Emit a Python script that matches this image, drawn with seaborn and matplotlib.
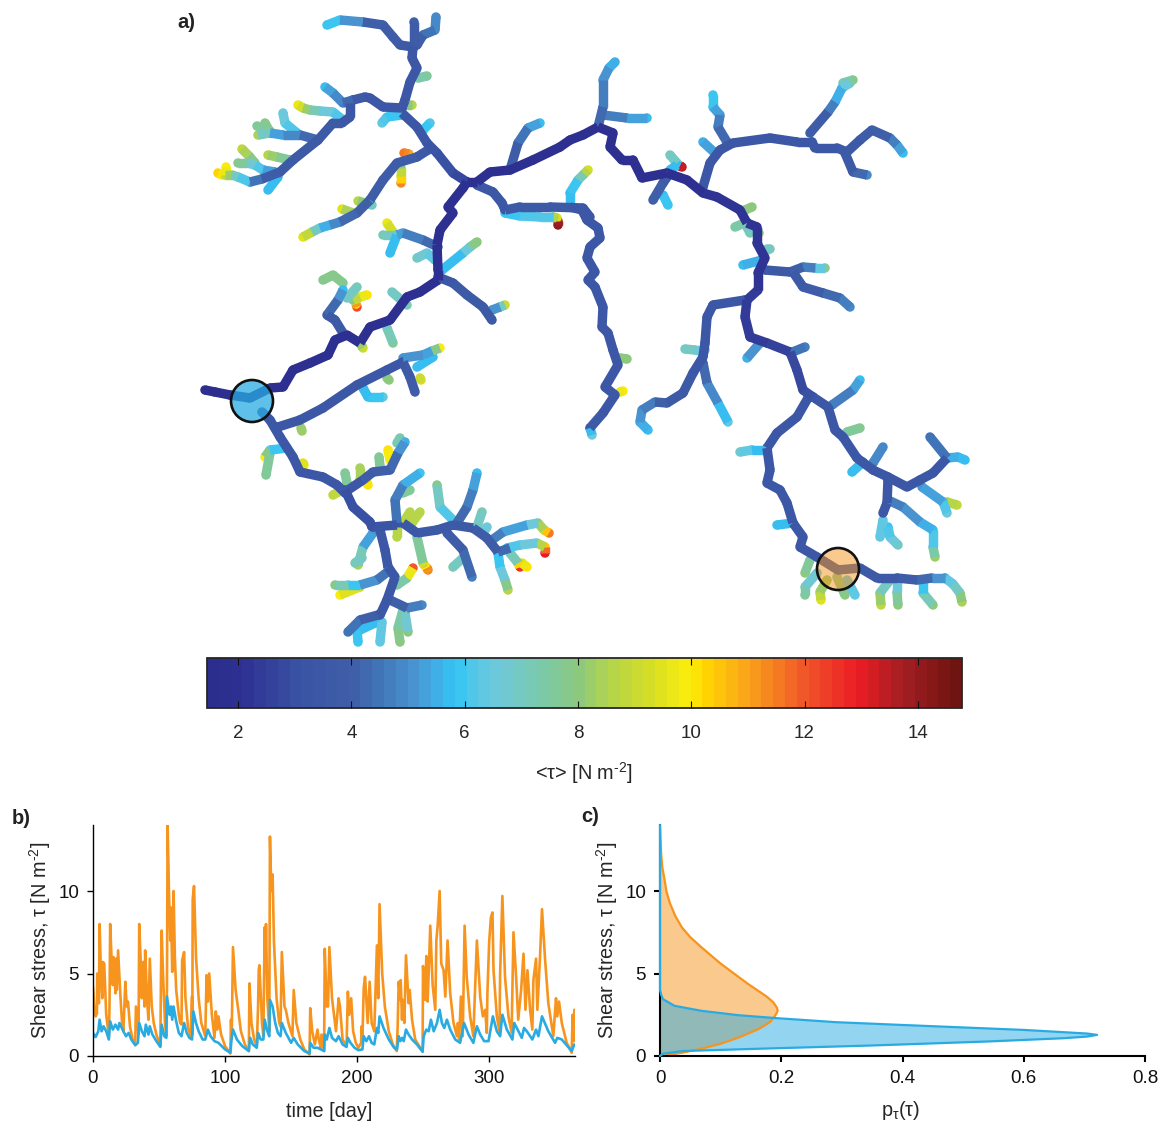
import numpy as np
import pandas as pd
import matplotlib
matplotlib.use('Agg')
import matplotlib.pyplot as plt
import seaborn as sns
from matplotlib.cm import ScalarMappable
from matplotlib.collections import LineCollection
from matplotlib.colors import LinearSegmentedColormap, Normalize, to_rgba
from matplotlib.patches import Circle

# --- panel a: channel reaches, (x, y, mean shear stress) along each reach, x/y in map units
outlet_stem = [(205,390,1.7),(215,392,1.7),(230,395,1.8),(250,398,1.8),(270,388,1.9),(283,387,1.9),(293,370,2),(310,363,2),(328,355,2),
               (335,340,2),(347,335,2),(360,343,2),(370,327,2),(390,320,2),(407,297,2),(420,292,2),(438,280,2),(438,270,2),(437,245,2),
               (440,230,2),(453,213,2),(448,207,2),(463,188,2),(467,182,2)]
east_stem = [(467,182,2),(477,182,2),(490,172,2),(510,170,2),(533,160,2),(560,147,2),(570,140,2),(583,135,2),(598,127,2),(613,133,2),
             (610,147,2),(622,160,2),(633,160,2),(642,178,2),(667,173,2),(687,180,2),(703,193,2.1),(717,197,2.1),(740,210,2.1),(747,223,2.1),
             (757,227,2.1),(757,243,2.1),(765,258,2.2),(758,273,2.2),(758,290,2.3),(747,300,2.3),(745,317,2.4),(750,337,2.4),(767,343,2.4),
             (790,352,2.6),(797,370,2.8),(803,390,2.9),(813,397,3)]

north_branches = [
    [(327,25,6),(340,20,5.7),(363,22,4.3),(383,25,4),(393,37,3.8),(400,45,3.7),(413,47,3.5)],
    [(414,22,4),(414,47,3.6)],
    [(436,17,4.8),(435,30,4.8),(423,35,4.3),(417,45,3.8)],
    [(413,47,3.4),(412,58,3.4),(417,68,3.4),(410,82,3.4),(405,100,3.4),(402,108,3.3)],
    [(418,78,7.2),(427,76,7.6)],
    [(407,105,7.5),(412,105,8.7)],
    [(402,108,3.5),(383,107,3.5),(370,98,3.5),(365,97,3.5),(353,100,3.6)],
    [(353,100,3.8),(343,103,4.6),(333,93,5),(325,87,5.7)],
    [(350,103,3.5),(350,117,3.5),(342,123,3.5),(333,123,3.6),(318,140,3.6),(293,160,3.6),(280,172,3.7),(262,179,4),(250,182,5)],
    [(250,182,5.6),(238,177,6.5),(232,175,7.5),(225,175,8.8)],
    [(226,175,9.5),(226,167,9.9)],
    [(222,175,9.9),(218,173,10.4)],
    [(275,172,5),(263,170,5.7),(255,165,6.5),(247,163,7.2),(238,163,7.8)],
    [(255,163,7.6),(249,156,8),(242,149,8.8)],
    [(290,160,7),(277,157,8),(268,155,8.6)],
    [(278,177,5.6),(268,190,5.7)],
    [(318,140,4),(300,135,4.5),(283,135,5.2),(270,133,5.6),(258,135,8.5)],
    [(297,133,5.8),(285,123,6.5),(283,113,6.5)],
    [(270,132,7.6),(265,123,7.8)],
    [(270,131,7.5),(257,126,7.6)],
    [(343,120,6),(333,112,6.3),(320,111,6.8),(310,110,7.5),(303,108,8.8),(298,105,9.6)],
    [(402,115,5.7),(387,117,6),(382,123,6.3)],
    [(402,113,3.4),(417,127,3.4),(427,143,3.3),(437,153,3.2),(453,173,3),(467,182,2.6)],
    [(423,130,5.9),(430,123,6.1)],
    [(428,150,3.5),(417,157,3.7),(397,163,3.8),(383,180,3.8),(370,200,3.9),(357,213,4),(340,222,4.5),(330,225,5.2),(320,228,6),(312,232,8),(303,237,9.5)],
    [(404,153,11.6),(409,154,11)],
    [(401,168,8),(401,176,9.5),(401,183,11.3)],
    [(365,203,7.5),(358,201,8.7)],
    [(366,203,6.8),(372,205,7)],
    [(353,213,7.5),(342,209,9.5)],
    [(510,170,3.5),(518,143,4),(528,128,5),(540,123,5.7)],
]
central_branches = [
    [(477,185,3.5),(493,192,3.5),(502,203,3.5),(505,210,3.5),(520,207,3.6),(550,207,3.6),(583,208,3.5),(590,217,3.5)],
    [(570,207,3.5),(582,210,3.5),(587,220,3.5),(598,228,3.5),(600,238,3.5),(590,247,3.5),(587,258,3.5),(595,272,3.5),(588,280,3.5),
     (595,287,3.5),(603,307,3.5),(602,327,3.5),(608,333,3.5),(613,350,3.5),(618,365,3.5),(605,387,3.5),(615,395,3.5),(603,413,3.5),(590,428,3.6)],
    [(590,428,5),(592,435,6.5)],
    [(620,358,8),(627,359,8.1)],
    [(620,392,9.6),(623,391,9.8)],
    [(505,213,5.9),(520,216,6.1),(540,217,6.1),(553,217,6.2)],
    [(553,217,8),(557,218,9.2)],
    [(558,221,13.7),(558,225,14)],
    [(570,205,5.6),(570,193,5.7),(578,180,6.3),(584,174,8),(588,170,9.2)],
    [(438,247,4),(423,240,4.5),(403,233,5),(397,235,5.7),(390,253,5.7)],
    [(397,235,6.8),(383,235,7.1)],
    [(393,232,8.8),(387,223,9.6)],
    [(435,260,6),(427,253,6.5),(417,258,7)],
    [(442,270,5.7),(463,253,5.7),(470,247,7.6),(477,242,8)],
    [(438,277,3.5),(453,283,3.5),(467,295,3.6),(483,307,3.7),(492,320,3.7)],
    [(492,310,5),(500,307,5),(505,305,9)],
    [(392,292,6.9),(407,305,7.1)],
    [(343,333,3.5),(335,320,3.6),(327,315,3.8),(338,300,4.6),(343,290,5.7)],
    [(343,283,7.6),(333,275,7.8),(323,280,7.8)],
    [(347,298,6.8),(357,287,7.2)],
    [(353,300,8),(360,297,9.5),(367,295,10)],
    [(356,304,10),(357,307,12.2)],
    [(387,328,6.8),(393,343,7.5)],
    [(360,343,7.5),(363,348,9)],
]
east_branches = [
    [(598,127,4),(603,107,4.5),(603,80,5),(609,68,5.3),(615,62,5.6)],
    [(603,115,4.5),(627,118,5),(647,118,5.7)],
    [(670,173,3.8),(663,183,3.9),(653,200,4)],
    [(663,195,5.8),(668,205,6)],
    [(680,166,13.3),(682,167,13.5)],
    [(670,170,5.7),(677,165,5.7)],
    [(677,163,6.8),(670,155,7)],
    [(703,187,3.5),(710,163,3.5),(720,150,3.5),(733,143,3.5),(770,138,3.5),(797,142,3.5),(812,142,3.5)],
    [(715,153,5.2),(703,142,5.6)],
    [(727,142,4),(718,127,4.5),(720,115,5),(713,107,5.7),(713,95,6)],
    [(812,142,3.5),(815,148,3.5),(837,148,3.5),(847,152,3.6),(860,140,3.7),(872,130,3.8),(890,138,4.5),(897,145,5),(903,153,5.7)],
    [(845,153,3.5),(853,172,3.8),(867,175,4.8)],
    [(810,133,3.8),(828,112,4),(835,102,5.5),(842,88,5.7),(850,83,7.4)],
    [(843,83,7),(853,80,7.8)],
    [(745,210,7.8),(752,207,8.1)],
    [(747,222,7.2),(735,227,7.4)],
    [(747,227,6.9),(750,233,7.1)],
    [(757,233,8),(759,233,8.2)],
    [(767,249,7),(770,249,7.1)],
    [(762,260,5.5),(743,265,5.7)],
    [(765,270,3.5),(790,272,3.8),(803,267,4.5),(815,268,5),(825,268,7.8)],
    [(793,272,3.5),(803,287,3.8),(823,293,4),(840,298,4.5),(850,307,4.8)],
    [(745,300,3.5),(713,305,3.5),(707,317,3.5),(705,343,3.5),(703,357,3.5),(693,373,3.5),(683,393,3.6),(667,403,3.8),(655,402,4.4),(642,410,4.8),(640,422,5.2),(648,430,5.8)],
    [(685,349,7),(695,350,6.8),(705,350,6.4)],
    [(703,363,4),(707,383,4.5),(718,403,5.2),(728,422,6.3)],
    [(760,343,4.8),(747,358,5.5)],
    [(790,353,4.5),(805,347,4.6)],
]
south_east_branches = [
    [(813,397,3.3),(828,407,3.5),(835,430,3.5),(843,437,3.5),(857,458,3.5),(873,470,3.5),(888,477,3.5),(907,487,3.5),(920,480,3.5),(933,473,3.5),(947,458,3.5)],
    [(947,458,4.5),(930,437,4.5)],
    [(947,458,5.5),(958,457,5.6),(965,460,5.7)],
    [(888,480,3.5),(887,503,3.5),(883,513,3.5)],
    [(888,500,4.5),(903,507,4.8),(920,522,5.3),(933,530,5.8),(933,547,6.5),(935,557,8.3)],
    [(883,520,6.3),(880,537,6.4)],
    [(888,527,5.9),(890,537,6.3),(898,545,6.9)],
    [(922,487,5),(943,502,5.7),(947,513,6.5)],
    [(947,502,8.3),(957,505,8.8)],
    [(873,463,4.7),(883,447,4.9)],
    [(863,462,5.7),(852,472,5.8)],
    [(847,432,7.3),(860,428,7.7)],
    [(832,405,4.5),(853,390,5),(860,380,5.7)],
    [(808,398,3.5),(797,417,3.5),(777,433,3.5),(767,448,3.5),(770,470,3.5),(767,483,3.5),(780,490,3.5),(787,503,3.5),(793,523,3.5),(803,537,3.5),(800,547,3.5),(817,557,3.5),(838,570,3.5),(860,568,3.6),(877,578,3.6),(897,578,3.7),(917,580,4),(932,578,4.6),(945,578,5.6)],
    [(767,450,5.7),(752,450,5.8),(740,452,6.8)],
    [(793,523,5.7),(777,525,5.7)],
    [(945,578,6),(953,584,6.5),(960,593,7.5),(962,602,8.5)],
    [(923,580,5.7),(923,593,6.3),(933,605,8)],
    [(897,580,6.3),(897,592,7),(898,605,8)],
    [(890,580,6.5),(880,593,7.5),(881,605,8.8)],
    [(810,560,7.3),(805,573,8)],
    [(817,573,6.3),(805,587,7.3),(805,595,7.5)],
    [(827,580,8),(820,592,8.3),(821,600,9.5)],
    [(837,577,7.5),(845,595,8)],
    [(847,580,6.3),(855,595,6.4)],
]
south_west_branches = [
    [(262,412,3.5),(270,420,3.5),(280,437,3.5),(293,457,3.5),(300,472,3.5),(323,477,3.5),(337,485,3.5),(345,493,3.5)],
    [(278,427,3.5),(300,420,3.5),(323,408,3.5),(357,385,3.5),(387,370,3.5),(403,362,3.5)],
    [(403,362,3.5),(410,377,3.7),(415,392,4)],
    [(403,358,5),(423,355,5.2),(432,351,5.6),(440,348,9.8)],
    [(417,367,5.7),(433,357,5.7)],
    [(420,378,9),(421,380,9.2)],
    [(363,388,5.7),(368,397,5.7),(383,397,6.3)],
    [(387,378,8),(389,380,8)],
    [(301,428,8.2),(302,431,8.3)],
    [(287,448,5.7),(270,450,6.3),(265,457,9.8)],
    [(270,453,7.5),(266,475,7.6)],
    [(303,463,9.5),(304,465,9.6)],
    [(345,490,3),(353,507,3),(370,522,3.1),(372,527,3.1),(397,525,3.2)],
    [(345,492,3.5),(363,480,3.5),(373,472,4),(390,470,4),(398,453,4.5),(405,442,5.6)],
    [(397,443,7.2),(400,438,7.3)],
    [(390,460,9.9),(388,450,10)],
    [(380,467,7.5),(379,457,7.6)],
    [(360,480,8.3),(360,468,8.4)],
    [(347,483,7.5),(345,473,7.6)],
    [(342,490,8.6),(333,495,8.9)],
    [(367,483,10),(368,485,10)],
    [(397,523,4.5),(395,500,4.5),(403,485,5),(420,473,6)],
    [(403,493,7.5),(410,490,7.6)],
    [(403,523,8.5),(410,512,8.7)],
    [(412,523,8.5),(420,512,8.6)],
    [(397,527,8.5),(397,537,8.6)],
    [(403,523,3.5),(417,533,3.5),(437,530,3.6),(453,525,3.7),(473,528,3.7),(487,538,3.8),(498,552,4),(510,548,4.5)],
    [(457,523,4.2),(467,507,4.5),(473,490,5),(477,473,5.7)],
    [(453,520,5.8),(440,507,6.3),(437,485,7.8)],
    [(477,527,7),(482,512,7.1)],
    [(483,533,6.4),(487,527,6.5)],
    [(447,533,3.8),(463,550,4),(472,577,4.6)],
    [(463,558,6.9),(453,567,7.1)],
    [(417,537,6.5),(423,563,8.5),(425,566,10)],
    [(427,568,11.2),(428,570,11.4)],
    [(498,553,5.7),(500,567,6),(505,580,7),(508,590,8.6)],
    [(492,540,4.5),(503,532,5),(527,525,5.5),(538,523,7.5),(544,530,9.5),(549,533,11.6)],
    [(507,548,6),(520,545,6.3),(537,543,6.8),(545,547,10.6),(545,553,13)],
    [(510,553,6.5),(518,563,8),(520,567,12.6)],
    [(522,563,9.5),(527,567,10)],
    [(380,530,3.5),(385,550,3.5),(388,567,3.5),(395,577,3.5),(387,600,3.5),(380,615,3.5)],
    [(373,533,5),(363,547,5.7),(358,565,8.5)],
    [(362,558,6.9),(355,563,7.1)],
    [(390,570,4),(377,580,4.8),(360,585,5.2),(348,585,6.5),(335,585,7.8)],
    [(360,587,9),(340,595,9.9)],
    [(397,585,7.3),(407,578,7.5),(413,568,12)],
    [(390,600,3.8),(407,608,4.5),(422,605,4.8)],
    [(403,610,7.2),(398,628,7.5),(400,642,8)],
    [(405,613,5.7),(408,632,8)],
    [(378,615,4),(360,620,4.3),(348,632,4.5)],
    [(357,630,5.7),(358,642,6)],
    [(375,623,5.7),(360,630,5.7)],
    [(382,622,6.3),(380,642,6.3)],
]

gauge_x = [252, 838]
gauge_y = [401, 569]
gauge_colors = ['#29abe2', '#f7941d']
gauge_alpha = [0.75, 0.5]

cbar_levels = [1.45,2,3,4,4.5,5,5.5,5.8,6.2,6.6,7.2,8,8.6,9.3,10,10.3,11,12,13,13.8,14.78]
cbar_colors = ['#2b2e8c','#2e3192','#3a53a4','#3f5fa8','#4278ba','#4a90cf','#3fb0e8','#32c5f4','#5ac8e6','#70c8d8','#78c9b4',
               '#8cc97e','#b5d44a','#d6de26','#fcee0a','#ffd400','#faa61a','#f15a29','#ed1c24','#a41e22','#6f1410']

# --- panel b: shear stress at the two gauges, (day, tau)
orange_series = [(0,4.2),(1,3),(2,2.4),(3,2.6),(3.2,5),(4.5,3.2),(5,8),(6,5),(7,3.5),(7.5,5.7),(8.5,5.6),(10,2.5),(12,1.2),(12.5,3),(13,8),(14,6),
    (15,4.3),(15.5,6),(17,3.8),(17.5,5.9),(18,4),(19,6.4),(20.5,4),(22,2),(23,1.5),(24.5,4.5),(25.5,3),(26.5,3.3),(28,1.8),(30,1),(32,0.8),(32.5,3),
    (34.5,1.3),(35,8),(36,6),(37,3.5),(38,5.7),(39,3),(39.5,6.4),(41,3.3),(42,2.2),(43,5.9),(44.5,3),(46,2),(48,1.3),(51,0.6),(51.5,5),(52,7.6),
    (53,5),(54.5,2),(55.5,1.2),(56,4),(56.5,14),(57.5,10),(58.5,7),(59,9),(60,5.1),(61,10),(62,6),(63,4),(65,2.5),(66,2),(67,1.9),(67.5,5.8),
    (69,6.3),(70,3.5),(72,1.7),(74,1.2),(75,3.6),(75.2,1.3),(75.5,9.5),(76.5,10.3),(78,6),(80,3.5),(82,2),(85,1.2),(86,4.9),(87,3.3),(88,5),(90,2.5),
    (92,1.1),(93,2.7),(94,1.6),(95,2.4),(97,1.3),(100,0.6),(104,0.15),(104.5,2.2),(105,1),(106,6.6),(108,4),(110,2.8),(112,1.5),(115,0.7),(118,0.3),(118.5,4.4),
    (120,2),(122,1),(124,0.6),(125,3),(125.5,5.2),(126,5.5),(128,2),(129,1.2),(130,7.8),(130.5,5),(131,8),(132,3.5),(133.5,1.5),(134,13.3),(135,10),(136,11),
    (137,7),(139,3.5),(141,2),(142,1.8),(143,6.3),(145,3),(146,2.8),(148,2),(151,1.2),(152,4),(154,2),(157,1),(160,0.4),(164,0.1),(164.5,2.9),(166,1.5),
    (168,0.7),(170,1.6),(171,1),(172.5,0.5),(173,1.3),(175,0.3),(175.5,6.5),(177,3),(178,3),(179,6.6),(181,3.5),(184,1.5),(186,3.5),(187,3),(189,1),(192,0.6),
    (193,3.9),(194,2.5),(195.5,3.5),(197,1.5),(199,0.8),(201,0.5),(203,0.8),(203.5,1.8),(204,1),(205,4.1),(206,4.8),(208,2),(209.5,4.5),(211,2),(213,1.5),(215,6.7),
    (216,3.5),(217,9.2),(219,5),(221,3),(224,1.5),(227,0.7),(230,0.3),(230.7,1.8),(231.5,4.5),(232.7,3.4),(233,4.6),(234,2.2),(234.5,3.4),(235.8,2),(237,6.1),(239,3.2),
    (239.8,4),(241.6,2.2),(244,1),(249.6,0.26),(249.9,5.45),(251.6,3.4),(252.4,6.06),(253.4,3.3),(254.2,5),(255.4,7.9),(257.2,4.3),(259.2,2.8),(260,7),(261,7.9),(262.5,10),(263.7,5.6),
    (265.5,5.2),(266.8,3.6),(268.5,7),(270.5,3.8),(273,2),(275.6,1.2),(276.3,2),(277.3,1),(278.6,3.6),(280,1.2),(281.4,7.9),(283,4.8),(285.6,2.4),(288,1.2),(289.4,4.2),(290.7,7),
    (293.2,3.6),(295.2,2.4),(297,2.8),(298.2,1.4),(298.7,3.9),(300,6.9),(301.3,8.4),(302.5,8.7),(303.3,5.2),(305.8,2.4),(307.8,1.5),(308.3,5),(310,9.7),(312,4.8),(314.6,2.4),(317,1.4),
    (318.4,7.5),(320.4,4.8),(322,2.2),(324.2,4),(326,6.2),(327.5,2.8),(329,5.2),(331,2.8),(332.7,1.6),(333.5,4.6),(335.5,5.9),(336.5,2.8),(338.5,6),(340,8.9),(342.3,5.9),(344.8,3.2),
    (348.6,1.2),(350.6,3.5),(351.6,2.4),(352.9,3.3),(355,2),(358.7,0.8),(362.5,0.2),(363.2,2.5),(364,0.9),(364.5,2.8)]
blue_series = [(0,1.4),(2,1.15),(4,1.5),(5,2.2),(6.5,1.5),(8,1.8),(10,1.5),(12,1),(13,2.1),(15,1.6),(17,1.9),(19,1.6),(20,2),(23,1.5),(25,1.2),(27,1.4),
    (29,1),(32,0.65),(34,0.8),(35,2),(37,1.5),(39,1.2),(40,1.9),(42,1.3),(43,1.8),(45,1.3),(48,0.9),(51,0.55),(52,1.9),(54,1.2),(55.5,1.1),(56,3.6),
    (58,2.5),(59,3),(60,2.2),(61,3),(63,2.1),(65,1.4),(67,1.2),(69,2),(71,1.4),(73,1.1),(75,1),(76,2.7),(78,2),(80,1.5),(83,1),(85,1),
    (87,1.6),(89,1.2),(92,0.9),(95,0.8),(100,0.4),(104,0.2),(105,1.1),(106,1.6),(109,1),(113,0.6),(118,0.3),(119,1.1),(121,0.7),(124,0.5),(125,1.4),(127,1),
    (129,1),(130,2.2),(132,1.5),(133.5,1.2),(134,3.4),(136,3),(138,2),(140,1.4),(142,1.2),(143,2),(146,1.4),(150,0.8),(152,1.1),(155,0.7),(160,0.3),(164,0.15),
    (164.5,0.8),(167,0.5),(170,0.5),(175,0.3),(175.5,1.3),(177,1),(179,1.7),(181,1.1),(184,0.9),(186,1.2),(189,0.7),(192,0.55),(193,1.1),(195,0.8),(198,0.5),(201,0.35),
    (204,0.4),(205,1.2),(207,0.9),(209,1.2),(211,0.8),(213,0.7),(215,1.7),(216,1.4),(217,2.4),(220,1.7),(224,1),(228,0.5),(230.2,0.4),(231.5,1.2),(232.7,0.9),(234,1.1),
    (235.3,0.9),(237,1.6),(239,1.3),(241.6,1),(245.3,0.7),(249.6,0.26),(250.4,1.2),(252.4,1.6),(254.2,1.5),(255.9,2.2),(258,1.5),(260.5,2),(262.5,2.8),(264.2,2),(266,1.7),(268,2.2),
    (270.5,1.6),(274.3,1),(278,0.8),(281,2),(284.4,1.3),(288,0.8),(290.7,1.8),(293.2,1.3),(296.2,0.9),(299.5,0.9),(302.8,2.4),(305.8,1.5),(308.3,1.2),(310,2.5),(313.4,1.6),(317.6,1),
    (319,2),(324.7,1.1),(326.4,1.7),(328.5,1.5),(332.7,1),(335.5,1.6),(337.3,1.2),(340,2.4),(344.8,1.5),(349.9,0.8),(351.6,1.1),(355,1),(362.5,0.3),(364.5,0.7)]

# --- panel c: pdf of shear stress, (p, tau)
orange_pdf = [(0,0),(0.011,0.04),(0.037,0.2),(0.068,0.44),(0.1,0.74),(0.131,1.14),(0.163,1.64),(0.181,2.05),(0.188,2.34),(0.193,2.64),(0.194,2.75),(0.193,2.92),(0.187,3.25),(0.176,3.6),
              (0.144,4.4),(0.1,5.6),(0.068,6.6),(0.05,7.2),(0.036,7.8),(0.025,8.5),(0.016,9.3),(0.0105,10),(0.007,10.8),(0.004,11.4),(0.002,12.2),(0,14)]
blue_pdf = [(0,0),(0.005,0.14),(0.037,0.3),(0.163,0.44),(0.352,0.64),(0.541,0.88),(0.667,1.08),(0.705,1.18),(0.721,1.28),(0.705,1.36),(0.667,1.44),(0.6,1.58),(0.48,1.76),
            (0.4,1.88),(0.29,2.05),(0.19,2.3),(0.13,2.47),(0.068,2.74),(0.024,3.04),(0.005,3.44),(0.002,3.7),(0,4),(0,14)]

ORANGE = '#f7941d'
BLUE = '#29abe2'

sns.set_style('ticks')
plt.rcParams['font.family'] = ['Liberation Sans', 'DejaVu Sans']
plt.rcParams['mathtext.fontset'] = 'custom'
plt.rcParams['mathtext.rm'] = 'Liberation Sans'
plt.rcParams['mathtext.it'] = 'Liberation Sans'
plt.rcParams['mathtext.default'] = 'regular'

W, H = 1165, 1124
fig = plt.figure(figsize=(W/100, H/100), dpi=100)


def box(left, top, right, bottom):
    return [left/W, 1 - bottom/H, (right-left)/W, (bottom-top)/H]


norm = Normalize(1.45, 14.78)
stops = [(v-1.45)/(14.78-1.45) for v in cbar_levels]
cmap = LinearSegmentedColormap.from_list('tau', list(zip(stops, cbar_colors)), N=64)

# map
ax_map = fig.add_axes([0, 0, 1, 1])

segs = []
vals = []
dots = []
for group in [[outlet_stem, east_stem], north_branches, central_branches, east_branches, south_east_branches, south_west_branches]:
    for br in group:
        arr = np.array(br, dtype=float)
        dots.append(arr)
        for i in range(len(arr)-1):
            segs.append(arr[i:i+2, :2])
            vals.append((arr[i, 2] + arr[i+1, 2]) / 2)

LW = 6.8
# round ends and bends come from dots at the reach vertices, under the segments
dots = pd.DataFrame(np.vstack(dots), columns=['x', 'y', 'tau']).sort_values('tau', ascending=False)
sns.scatterplot(data=dots, x='x', y='y', hue='tau', hue_norm=norm, palette=cmap, s=LW**2, linewidth=0, legend=False, ax=ax_map)
ax_map.set_xlim(0, W)
ax_map.set_ylim(H, 0)
ax_map.axis('off')

# dark trunk on top of the pale tips
order = np.argsort(vals)[::-1]
lc = LineCollection([segs[i] for i in order], array=np.array(vals)[order], cmap=cmap, norm=norm,
                    linewidths=LW, capstyle='butt', joinstyle='round')
ax_map.add_collection(lc)

for gx, gy, gc, ga in zip(gauge_x, gauge_y, gauge_colors, gauge_alpha):
    ax_map.add_patch(Circle((gx, gy), 21, facecolor=to_rgba(gc, ga), edgecolor='#111111', linewidth=1.9, zorder=5))

# colorbar
cax = fig.add_axes(box(207, 658, 962, 708))
sm = ScalarMappable(norm=norm, cmap=cmap)
cb = fig.colorbar(sm, cax=cax, orientation='horizontal', ticks=[2, 4, 6, 8, 10, 12, 14])
cb.minorticks_off()
cax.set_axisbelow(False)
cb.ax.tick_params(axis='x', direction='in', top=True, bottom=True, length=5, width=0.8, pad=12, labelsize=13.5, color='#111111')
cb.outline.set_linewidth(1.3)
fig.text(584/W, 1-773/H, r'<τ> [N m$^{\text{-}2}$]', ha='center', va='center', fontsize=14.3)

# time series
ax_b = fig.add_axes(box(93, 825, 575, 1056))
df_o = pd.DataFrame(orange_series, columns=['day', 'tau'])
df_b = pd.DataFrame(blue_series, columns=['day', 'tau'])
sns.lineplot(data=df_o, x='day', y='tau', color=ORANGE, lw=1.9, estimator=None, sort=False, ax=ax_b)
sns.lineplot(data=df_b, x='day', y='tau', color=BLUE, lw=1.9, estimator=None, sort=False, ax=ax_b)
ax_b.set_xlim(0, 365)
ax_b.set_ylim(0, 14)
ax_b.set_xticks([0, 100, 200, 300])
ax_b.set_yticks([0, 5, 10])
ax_b.set_xlabel('time [day]', fontsize=14.3, labelpad=11, x=0.49)
ax_b.set_ylabel(r'Shear stress, τ [N m$^{\text{-}2}$]', fontsize=14.3, labelpad=4)

# pdf
ax_c = fig.add_axes(box(660, 825, 1145, 1056))
pdf_o = pd.DataFrame(orange_pdf, columns=['p', 'tau'])
pdf_b = pd.DataFrame(blue_pdf, columns=['p', 'tau'])
ax_c.fill_betweenx(pdf_o['tau'], 0, pdf_o['p'], color=ORANGE, alpha=0.5, lw=0)
sns.lineplot(data=pdf_o, x='p', y='tau', orient='y', color=ORANGE, lw=1.6, estimator=None, sort=False, ax=ax_c)
ax_c.fill_betweenx(pdf_b['tau'], 0, pdf_b['p'], color=BLUE, alpha=0.5, lw=0)
sns.lineplot(data=pdf_b, x='p', y='tau', orient='y', color=BLUE, lw=1.6, estimator=None, sort=False, ax=ax_c, clip_on=False, zorder=5)
ax_c.set_xlim(0, 0.8)
ax_c.set_ylim(0, 14)
ax_c.set_xticks([0, 0.2, 0.4, 0.6, 0.8])
ax_c.set_xticklabels(['0', '0.2', '0.4', '0.6', '0.8'])
ax_c.set_yticks([0, 5, 10])
ax_c.set_xlabel(r'p$_{τ}$(τ)', fontsize=14.3, labelpad=9, x=0.497)
ax_c.set_ylabel(r'Shear stress, τ [N m$^{\text{-}2}$]', fontsize=14.3, labelpad=4)

for ax, spine_w in [(ax_b, 1.0), (ax_c, 1.5)]:
    sns.despine(ax=ax)
    ax.tick_params(length=4, width=spine_w, labelsize=13.5, pad=6, color='black', labelcolor='#111111')
    for s in ['left', 'bottom']:
        ax.spines[s].set_color('black')
        ax.spines[s].set_linewidth(spine_w)
    ax.patch.set_alpha(0)

fig.text(177/W, 1-23/H, 'a)', fontsize=14.5, fontweight='bold', va='center', color='#222222')
fig.text(12/W, 1-818/H, 'b)', fontsize=14.5, fontweight='bold', va='center', color='#222222')
fig.text(581/W, 1-816/H, 'c)', fontsize=14.5, fontweight='bold', va='center', color='#222222')

fig.savefig('out.png', dpi=100)
